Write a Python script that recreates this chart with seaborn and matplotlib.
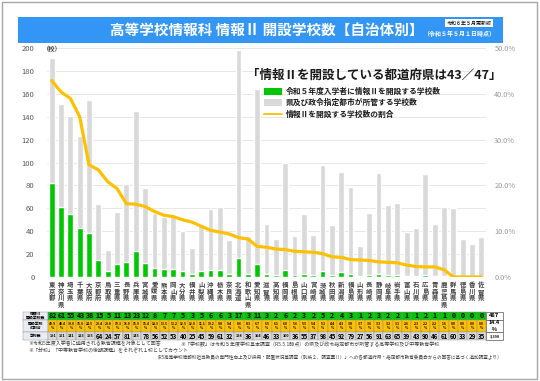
import numpy as np
import pandas as pd
import matplotlib
matplotlib.use("Agg")
import matplotlib.pyplot as plt
import seaborn as sns
from matplotlib.patches import Rectangle, Patch
from matplotlib.lines import Line2D

# ---------------- data ----------------
prefectures = ["東京都", "神奈川県", "埼玉県", "千葉県", "大阪府", "京都府", "鳥取県", "三重県",
               "長野県", "兵庫県", "宮城県", "愛媛県", "熊本県", "岡山県", "大分県", "福井県",
               "山梨県", "沖縄県", "栃木県", "奈良県", "北海道", "和歌山県", "愛知県", "滋賀県",
               "高知県", "福岡県", "島根県", "山口県", "宮崎県", "茨城県", "秋田県", "新潟県",
               "福島県", "山形県", "長崎県", "静岡県", "岐阜県", "岩手県", "富山県", "石川県",
               "広島県", "青森県", "鹿児島県", "群馬県", "徳島県", "香川県", "佐賀県"]
info2_schools = [82, 61, 55, 43, 38, 15, 5, 11, 13, 23, 12, 8, 7, 7, 5, 3,
                 5, 6, 6, 3, 17, 3, 11, 3, 2, 6, 2, 3, 2, 5, 2, 4,
                 3, 1, 2, 3, 2, 2, 1, 1, 2, 1, 1, 0, 0, 0, 0]
total_schools = [191, 151, 141, 123, 155, 64, 24, 57, 81, 145, 78, 56, 52, 53, 40, 25,
                 45, 59, 61, 32, 198, 36, 164, 46, 33, 100, 36, 55, 37, 98, 45, 92,
                 79, 27, 56, 91, 63, 65, 39, 43, 90, 46, 61, 60, 33, 29, 35]
ratio_pct = [42.9, 40.4, 39.0, 35.0, 24.5, 23.4, 20.8, 19.3, 16.0, 15.9, 15.4, 14.3, 13.5, 13.2,
             12.5, 12.0, 11.1, 10.2, 9.8, 9.4, 8.6, 8.3, 6.7, 6.5, 6.1, 6.0, 5.6, 5.5, 5.4, 5.1,
             4.4, 4.3, 3.8, 3.7, 3.6, 3.3, 3.2, 3.1, 2.6, 2.3, 2.2, 2.2, 1.6, 0.0, 0.0, 0.0, 0.0]
total_info2 = "487"
total_ratio = "14.4"
total_all = "3,390"
row_headers = ["情報Ⅱ\n開設学校数", "開設学校\nの割合", "学校数"]
legend_labels = ["令和５年度入学者に情報Ⅱを開設する学校数",
                 "県及び政令指定都市が所管する学校数",
                 "情報Ⅱを開設する学校数の割合"]
left_ticks = list(range(0, 201, 20))
right_ticks = [0.0, 0.1, 0.2, 0.3, 0.4, 0.5]

GREEN = "#00c800"
GRAY = "#d9d9d9"
YELLOW = "#ffc000"

sns.set_theme(style="white")
plt.rcParams['font.family'] = ['Noto Sans CJK JP', 'DejaVu Sans']

W, H = 540, 381
fig = plt.figure(figsize=(W / 100, H / 100), dpi=100)
fig.patch.set_facecolor("white")


def fx(px):
    return px / W


def fy(py):
    return 1 - py / H


# page frame and title banner
fig.add_artist(Rectangle((fx(2), fy(379)), fx(537) - fx(2), fy(2) - fy(379),
                         transform=fig.transFigure, fill=False, edgecolor="#a6a6a6", lw=1.0))
fig.add_artist(Rectangle((fx(18), fy(43)), fx(503) - fx(18), fy(17) - fy(43),
                         transform=fig.transFigure, facecolor="#3396f5", edgecolor="none"))
fig.text(fx(423), fy(30), "高等学校情報科 情報Ⅱ 開設学校数【自治体別】", color="white",
         fontsize=10.5, fontweight="bold", ha="right", va="center")
fig.text(fx(423), fy(33.5), "（令和５年５月１日時点）", color="white", fontsize=4.3,
         fontweight="bold", ha="left", va="center")
fig.text(fx(469), fy(23), "令和６年５月更新版", color="black", fontsize=3.6, ha="center", va="center",
         bbox=dict(boxstyle="square,pad=0.25", facecolor="white", edgecolor="none"))

# main axes
ax = fig.add_axes([fx(47), fy(277), fx(486) - fx(47), fy(48) - fy(277)])
df = pd.DataFrame({"pref": prefectures, "info2": info2_schools, "total": total_schools,
                   "ratio": np.array(ratio_pct) / 100})

sns.barplot(data=df, x="pref", y="total", color=GRAY, width=0.62, saturation=1,
            errorbar=None, ax=ax, zorder=2)
sns.barplot(data=df, x="pref", y="info2", color=GREEN, width=0.62, saturation=1,
            errorbar=None, ax=ax, zorder=3)
ax.set_ylim(0, 200)
ax.set_xlim(-0.5, len(prefectures) - 0.5)
ax.set_yticks(left_ticks)
ax.set_yticklabels([str(t) for t in left_ticks], fontsize=5.5, color="#595959")
ax.set_xticks(range(len(prefectures)))
ax.set_xticklabels(["\n".join(p) for p in prefectures], fontsize=4.6, color="#404040",
                   linespacing=0.92, fontweight="bold")
ax.tick_params(axis="x", length=0, pad=3)
ax.tick_params(axis="y", length=0, pad=9)
ax.set_xlabel("")
ax.set_ylabel("")
ax.grid(axis="y", color="#e3e3e3", lw=0.6)
ax.grid(axis="x", visible=False)
ax.set_axisbelow(True)
for s in ax.spines.values():
    s.set_visible(False)
ax.text(-0.01, 1.0, "（校）", transform=ax.transAxes, fontsize=4.5, fontweight="bold",
        color="#404040", ha="left", va="center")

ax2 = ax.twinx()
sns.lineplot(data=df, x="pref", y="ratio", sort=False, color=YELLOW, lw=2.3, ax=ax2, zorder=4)
ax2.set_ylim(0, 0.5)
ax2.set_yticks(right_ticks)
ax2.set_yticklabels([f"{t * 100:.1f}%" for t in right_ticks], fontsize=5.3, color="#999999")
ax2.tick_params(axis="y", length=0, pad=6)
ax2.set_xlabel("")
ax2.set_ylabel("")
ax2.grid(False)
for s in ax2.spines.values():
    s.set_visible(False)

# legend block
fig.text(fx(247), fy(75), "「情報Ⅱを開設している都道府県は43／47」", fontsize=9,
         fontweight="bold", color="#1a1a1a", ha="left", va="center")
handles = [Patch(facecolor=GREEN, edgecolor="none"),
           Patch(facecolor=GRAY, edgecolor="none"),
           Line2D([0], [0], color=YELLOW, lw=1.3)]
leg = fig.legend(handles, legend_labels, loc="upper left", bbox_to_anchor=(fx(264), fy(87)),
                 frameon=False, fontsize=5.6, handlelength=2.3, handleheight=0.9,
                 labelspacing=0.3, borderpad=0, handletextpad=0.5, borderaxespad=0)
for t in leg.get_texts():
    t.set_fontweight("bold")
    t.set_color("#1a1a1a")

# data table under the chart
n = len(prefectures)
row1 = [row_headers[0]] + [str(v) for v in info2_schools] + [total_info2]
row2 = [row_headers[1]] + [f"{v:.1f}\n%" for v in ratio_pct] + [f"{total_ratio}\n%"]
row3 = [row_headers[2]] + [str(v) for v in total_schools] + [total_all]
cell_colors = [["#e9ecf2"] + [GREEN] * n + ["white"],
               ["#e9ecf2"] + [YELLOW] * n + ["white"],
               ["#e9ecf2"] + [GRAY] * n + ["white"]]
axw = 486 - 47
axh = 277 - 48
col_widths = [25] + [(486 - 48) / n] * n + [17]
tbl = ax.table(cellText=[row1, row2, row3], cellColours=cell_colors, cellLoc="center",
               colWidths=[c / sum(col_widths) for c in col_widths],
               bbox=[(23 - 47) / axw, (277 - 340) / axh, (503 - 23) / axw, (340 - 312) / axh])
tbl.auto_set_font_size(False)
row_h = [8, 13, 8]
for (r, c), cell in tbl.get_celld().items():
    cell.set_height(row_h[r])
    cell.set_edgecolor("#8c8c8c")
    cell.set_linewidth(0.3)
    cell.PAD = 0.02
    t = cell.get_text()
    t.set_color("black")
    if c == 0:
        t.set_fontsize(2.8)
        t.set_fontweight("bold")
        t.set_linespacing(1.0)
    elif r == 0:
        t.set_fontsize(5.0 if c <= n else 4.2)
        t.set_fontweight("bold")
    elif r == 1:
        t.set_fontsize(2.4 if c <= n else 3.8)
        t.set_linespacing(1.3)
        t.set_fontweight("bold")
    else:
        txt = t.get_text()
        t.set_fontsize(4.4 if len(txt) <= 2 else 2.7)
        t.set_fontweight("bold")
    if c == n + 1:
        cell.set_edgecolor("#595959")
        cell.set_linewidth(0.5)

# notes
note_kw = dict(fontsize=3.6, color="#404040", va="center", ha="left")
fig.text(fx(28), fy(344), "※令和5年度入学者に適用される教育課程を対象として回答", **note_kw)
fig.text(fx(180), fy(344), "※「学校数」は令和５年度学校基本調査（R5.5.1時点）の県及び政令指定都市が所管する高等学校及び中等教育学校",
         **note_kw)
fig.text(fx(28), fy(351), "※「分校」「中等教育学校の後期課程」をそれぞれ１校としてカウント", **note_kw)
fig.text(fx(155), fy(358),
         "（R5高等学校情報科担当教員の専門性向上及び採用・配置状況等調査（別紙２、調査票Ⅱ）」への各都道府県・指定都市教育委員会からの回答に基づく追加調査より）",
         fontsize=3.3, color="#404040", va="center", ha="left")

fig.savefig("out.png", dpi=100, facecolor="white")
